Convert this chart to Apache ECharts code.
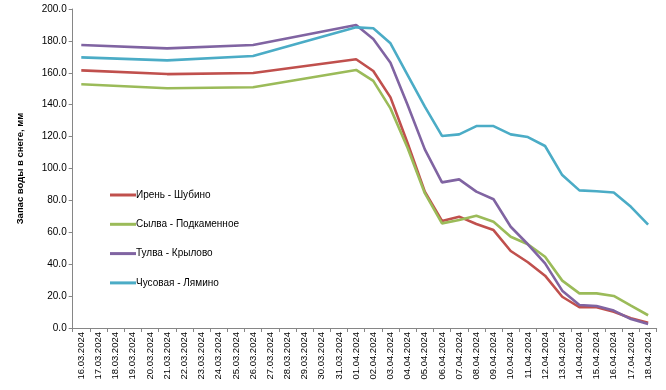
<!DOCTYPE html>
<html><head><meta charset="utf-8">
<script src="https://cdn.jsdelivr.net/npm/echarts@6/dist/echarts.min.js"></script>
<style>html,body{margin:0;padding:0;background:#fff}#c{width:666px;height:390px}</style>
</head><body><div id="c"></div>
<script>
var categories = ["16.03.2024","17.03.2024","18.03.2024","19.03.2024","20.03.2024","21.03.2024","22.03.2024","23.03.2024","24.03.2024","25.03.2024","26.03.2024","27.03.2024","28.03.2024","29.03.2024","30.03.2024","31.03.2024","01.04.2024","02.04.2024","03.04.2024","04.04.2024","05.04.2024","06.04.2024","07.04.2024","08.04.2024","09.04.2024","10.04.2024","11.04.2024","12.04.2024","13.04.2024","14.04.2024","15.04.2024","16.04.2024","17.04.2024","18.04.2024"];
var seriesNames = ["Ирень - Шубино","Сылва - Подкаменное","Тулва - Крылово","Чусовая - Лямино"];
var iren   = [161.5,null,null,null,null,159.2,null,null,null,null,159.9,null,null,null,null,null,168.5,161.1,144.6,115.8,85.5,67.1,69.8,65.2,61.4,48.3,41.2,32.8,19.6,13.0,13.0,10.2,6.1,3.3];
var sylva  = [152.8,null,null,null,null,150.3,null,null,null,null,150.9,null,null,null,null,null,161.8,154.9,137.7,112.9,84.5,65.6,67.7,70.4,66.6,57.2,52.5,44.7,29.7,21.7,21.7,20.1,14.0,8.0];
var tulva  = [177.4,null,null,null,null,175.3,null,null,null,null,177.4,null,null,null,null,null,190.0,181.2,166.3,139.8,112.0,91.3,93.2,85.5,80.7,63.5,52.5,40.5,23.4,14.4,13.8,10.9,5.6,2.5];
var chusov = [169.7,null,null,null,null,167.8,null,null,null,null,170.5,null,null,null,null,null,188.5,187.9,178.5,158.6,138.8,120.4,121.4,126.6,126.6,121.4,119.7,114.1,95.9,86.3,85.7,85.0,76.0,64.8];
var colors = ["#C0504D","#9BBB59","#8064A2","#4BACC6"];
var yTicks = {min:0,max:200,interval:20};

var data = [iren, sylva, tulva, chusov];
var chart = echarts.init(document.getElementById('c'), null, {renderer:'canvas'});
chart.setOption({
  animation:false,
  textStyle:{fontFamily:'"Liberation Sans", Arial, sans-serif'},
  grid:{left:72.7,right:9.3,top:9,bottom:62,containLabel:false},
  legend:{
    orient:'vertical', left:105, top:185, itemGap:19.3,
    itemWidth:26, itemHeight:10, icon:'path://M0,4 L26,4 L26,7 L0,7 Z',
    textStyle:{fontSize:10,color:'#000',padding:[0,0,0,-5]},
    data:seriesNames
  },
  xAxis:{
    type:'category', data:categories, boundaryGap:true,
    axisLine:{lineStyle:{color:'#868686',width:1}},
    axisTick:{show:true,length:4,lineStyle:{color:'#868686'}},
    axisLabel:{rotate:90,interval:0,fontSize:9.5,color:'#000',margin:4}
  },
  yAxis:{
    type:'value', min:yTicks.min, max:yTicks.max, interval:yTicks.interval,
    name:'Запас воды в снеге, мм', nameLocation:'middle', nameGap:47, nameRotate:90,
    nameTextStyle:{fontSize:9.5,fontWeight:'bold',color:'#000'},
    axisLine:{show:true,lineStyle:{color:'#868686',width:1}},
    axisTick:{show:true,length:4,lineStyle:{color:'#868686'}},
    splitLine:{show:false},
    axisLabel:{fontSize:10,color:'#000',margin:6,formatter:function(v){return v.toFixed(1);}}
  },
  series: seriesNames.map(function(n,i){
    return {name:n,type:'line',data:data[i],connectNulls:true,showSymbol:false,symbol:'none',
      lineStyle:{color:colors[i],width:2.6},itemStyle:{color:colors[i]}};
  })
});
</script></body></html>
